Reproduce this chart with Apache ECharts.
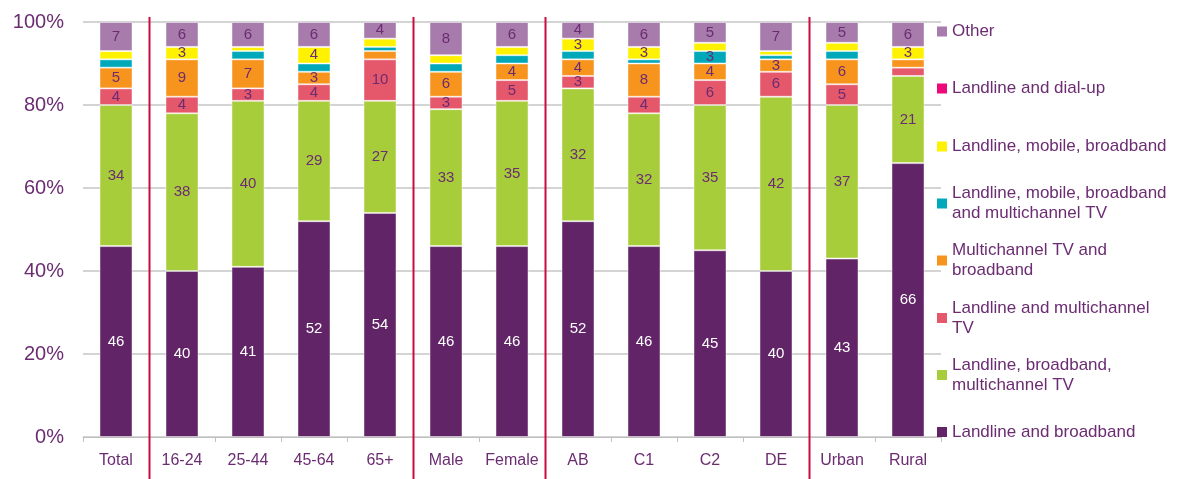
<!DOCTYPE html>
<html><head><meta charset="utf-8">
<script src="https://cdn.jsdelivr.net/npm/echarts@6/dist/echarts.min.js"></script>
<style>html,body{margin:0;padding:0;background:#fff}#c{width:1180px;height:479px}</style>
</head><body><div id="c"></div>
<script>
const categories = ['Total','16-24','25-44','45-64','65+','Male','Female','AB','C1','C2','DE','Urban','Rural'];
const seriesNames = [
  'Landline and broadband',
  'Landline, broadband,\nmultichannel TV',
  'Landline and multichannel\nTV',
  'Multichannel TV and\nbroadband',
  'Landline, mobile, broadband\nand multichannel TV',
  'Landline, mobile, broadband',
  'Landline and dial-up',
  'Other'
];
const landlineBroadband   = [46,40,41,52,54,46,46,52,46,45,40,43,66];
const landlineBbMulti     = [34,38,40,29,27,33,35,32,32,35,42,37,21];
const landlineMulti       = [4,4,3,4,10,3,5,3,4,6,6,5,2];
const multiBroadband      = [5,9,7,3,2,6,4,4,8,4,3,6,2];
const landMobBbMulti      = [2,0,2,2,1,2,2,2,1,3,1,2,0];
const landMobBb           = [2,3,1,4,2,2,2,3,3,2,1,2,3];
const landlineDialup      = [0,0,0,0,0,0,0,0,0,0,0,0,0];
const other               = [7,6,6,6,4,8,6,4,6,5,7,5,6];
const separatorsAfter = ['Total','65+','Female','DE'];

const values = [landlineBroadband, landlineBbMulti, landlineMulti, multiBroadband, landMobBbMulti, landMobBb, landlineDialup, other];
const colors = ['#612466','#a8cd3a','#e5576b','#f7941d','#00a9b9','#fff200','#ec0a7a','#a77bac'];
const txt = '#6b2c72';
const font = 'Liberation Sans, Arial, sans-serif';

const legendCenters = [31.5, 88.5, 146.5, 203.5, 260.5, 318, 375, 432];
const legendOrder = [7,6,5,4,3,2,1,0];

const series = values.map((v, i) => ({
  name: seriesNames[i],
  type: 'bar',
  stack: 'all',
  barWidth: 33,
  data: v,
  itemStyle: { color: colors[i], borderColor: 'rgba(255,255,255,0.45)', borderWidth: 1 },
  label: {
    show: true,
    position: 'inside',
    color: i === 0 ? '#ffffff' : txt,
    fontSize: 15,
    fontFamily: font,
    formatter: p => (p.value >= 3 ? String(p.value) : '')
  }
}));

const legends = legendOrder.map((si, k) => {
  const twoLine = seriesNames[si].indexOf('\n') >= 0;
  return {
    data: [seriesNames[si]],
    orient: 'vertical',
    left: 937,
    top: legendCenters[k] - (twoLine ? 30 : 10),
    padding: 0,
    itemWidth: 10,
    itemHeight: 10,
    itemGap: 0,
    icon: 'rect',
    selectedMode: false,
    itemStyle: { borderWidth: 0 },
    textStyle: {
      color: txt, fontSize: 17, fontFamily: font, lineHeight: 20,
      padding: twoLine ? [20, 0, 0, 0] : 0
    }
  };
});

const chart = echarts.init(document.getElementById('c'), null, { renderer: 'canvas' });
chart.setOption({
  animation: false,
  backgroundColor: '#ffffff',
  grid: { left: 83, right: 239, top: 22, bottom: 42, containLabel: false },
  legend: legends,
  xAxis: {
    type: 'category',
    data: categories,
    axisLine: { lineStyle: { color: '#bfbfbf', width: 1 } },
    axisTick: { show: true, length: 5, lineStyle: { color: '#bfbfbf' } },
    axisLabel: { color: txt, fontSize: 16, fontFamily: font, margin: 16, interval: 0 }
  },
  yAxis: {
    type: 'value',
    min: 0, max: 100, interval: 20,
    axisLine: { show: false },
    axisTick: { show: false },
    splitLine: { lineStyle: { color: '#d4d4d4', width: 2 } },
    axisLabel: { color: txt, fontSize: 20, fontFamily: font, margin: 19, formatter: '{value}%' }
  },
  series: series
});

const lines = separatorsAfter.map(name => {
  const i = categories.indexOf(name);
  const a = chart.convertToPixel({ xAxisIndex: 0 }, categories[i]);
  const b = chart.convertToPixel({ xAxisIndex: 0 }, categories[i + 1]);
  const x = Math.round((a + b) / 2) + 0.5;
  return { type: 'line', shape: { x1: x, y1: 17, x2: x, y2: 479 }, style: { stroke: '#cc0a3f', lineWidth: 2 }, z: 10 };
});
chart.setOption({ graphic: lines });
</script>
</body></html>
